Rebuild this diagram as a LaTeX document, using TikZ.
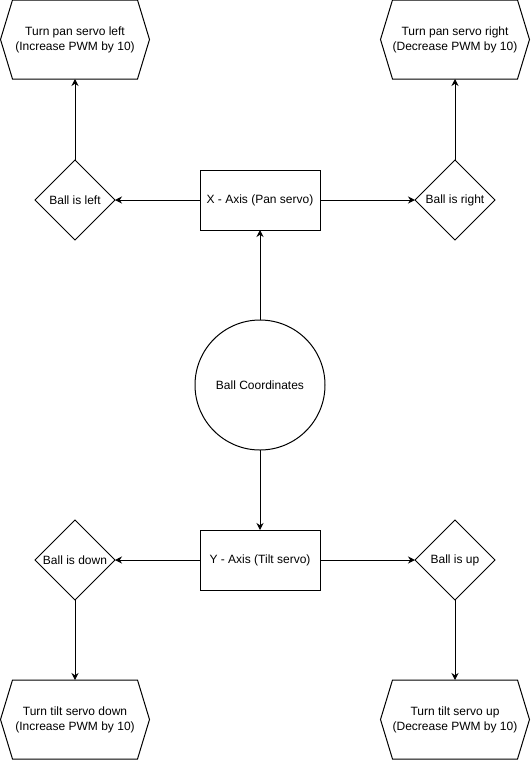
\documentclass[tikz,border=0pt]{standalone}
\usepackage{fontspec}
\setmainfont{Liberation Sans}
\usetikzlibrary{positioning,arrows.meta,shapes.geometric}

% hexagon outline around a (borderless) node
\newcommand{\hexframe}[1]{%
  \draw[line width=1pt] (#1.west) -- ([xshift=12pt]#1.north west)
    -- ([xshift=-12pt]#1.north east) -- (#1.east)
    -- ([xshift=-12pt]#1.south east) -- ([xshift=12pt]#1.south west) -- cycle;}

\begin{document}
\begin{tikzpicture}[
  x=1pt, y=-1pt,
  every node/.style={font=\fontsize{12}{15}\selectfont, outer sep=0pt},
  axisbox/.style={draw, line width=1pt, minimum width=120pt, minimum height=60pt, align=center},
  ballcirc/.style={draw, line width=1pt, circle, minimum size=130pt, inner sep=0pt, align=center},
  cond/.style={draw, line width=1pt, diamond, minimum width=80pt, minimum height=80pt,
               inner sep=0pt, align=center},
  act/.style={minimum width=149pt, minimum height=79pt, align=center},
  arr/.style={-{Stealth[length=7pt,width=7pt]}, line width=1pt}]
\useasboundingbox (0,0) rectangle (531,761);
% centre: the ball position splits into two axes
\node[ballcirc] (ball) at (260,385) {Ball Coordinates};
\node[axisbox, above=90pt of ball] (xaxis) {X - Axis (Pan servo)};
\node[axisbox, below=80pt of ball] (yaxis) {Y - Axis (Tilt servo)};
\draw[arr] (ball) -- (xaxis);
\draw[arr] (ball) -- (yaxis);
% pan side
\node[cond, left=85pt of xaxis] (left) {Ball is left};
\node[cond, right=95pt of xaxis] (right) {Ball is right};
\draw[arr] (xaxis) -- (left);
\draw[arr] (xaxis) -- (right);
\node[act, above=81pt of left] (panleft) {Turn pan servo left\\(Increase PWM by 10)};
\node[act, above=81pt of right] (panright) {Turn pan servo right\\(Decrease PWM by 10)};
\hexframe{panleft} \hexframe{panright}
\draw[arr] (left) -- (panleft);
\draw[arr] (right) -- (panright);
% tilt side
\node[cond, left=85pt of yaxis] (down) {Ball is down};
\node[cond, right=95pt of yaxis] (up) {Ball is up};
\draw[arr] (yaxis) -- (down);
\draw[arr] (yaxis) -- (up);
\node[act, below=80pt of down] (tiltdown) {Turn tilt servo down\\(Increase PWM by 10)};
\node[act, below=80pt of up] (tiltup) {Turn tilt servo up\\(Decrease PWM by 10)};
\hexframe{tiltdown} \hexframe{tiltup}
\draw[arr] (down) -- (tiltdown);
\draw[arr] (up) -- (tiltup);
\end{tikzpicture}
\end{document}
